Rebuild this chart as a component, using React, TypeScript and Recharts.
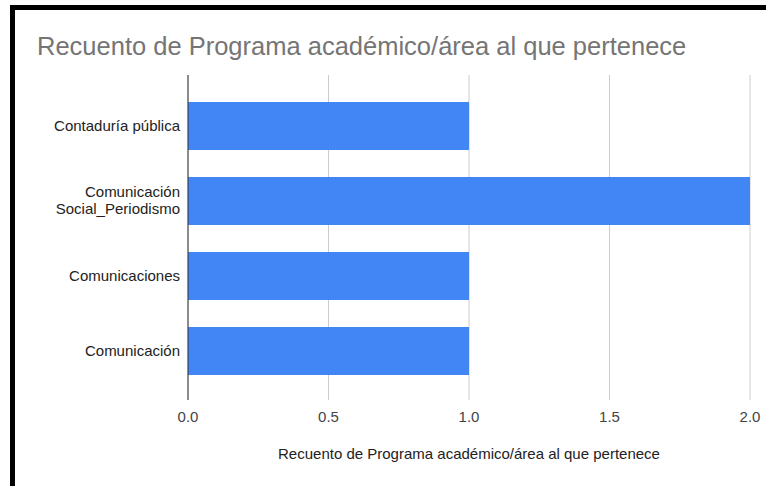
import { Bar, BarChart, CartesianGrid, Label, XAxis, YAxis } from "recharts";

const categories = [
  "Contaduría pública",
  "Comunicación Social_Periodismo",
  "Comunicaciones",
  "Comunicación",
];
const counts = [1, 2, 1, 1];
const xTicks = [0, 0.5, 1, 1.5, 2];

const TITLE = "Recuento de Programa académico/área al que pertenece";
const FONT = "'Liberation Sans', Arial, sans-serif";

const data = categories.map((name, i) => ({ name, value: counts[i] }));

// long labels go on two lines, like the original
const splitLabel = (s: string) => {
  if (s.length <= 20) return [s];
  const i = s.indexOf(" ");
  return i < 0 ? [s] : [s.slice(0, i), s.slice(i + 1)];
};

const CategoryTick = (props: any) => {
  const { x, y, payload } = props;
  const lines = splitLabel(String(payload.value));
  const lh = 17;
  const start = y - ((lines.length - 1) * lh) / 2 + 5;
  return (
    <text textAnchor="end" fill="#222" fontSize={15} fontFamily={FONT}>
      {lines.map((l, i) => (
        <tspan key={i} x={x} y={start + i * lh}>
          {l}
        </tspan>
      ))}
    </text>
  );
};

const App = () => {
  return (
    <div style={{ position: "absolute", left: 0, top: 0, width: 766, height: 486, background: "#fff", overflow: "hidden" }}>
      <div
        style={{
          position: "absolute",
          left: 10,
          top: 5,
          width: 800,
          height: 500,
          borderLeft: "5px solid #000",
          borderTop: "5px solid #000",
        }}
      />
      <div
        style={{
          position: "absolute",
          left: 37,
          top: 32,
          fontFamily: FONT,
          fontSize: 25.5,
          color: "#757575",
          whiteSpace: "nowrap",
        }}
      >
        {TITLE}
      </div>
      <div style={{ position: "absolute", left: 0, top: 0 }}>
        <BarChart
          width={766}
          height={486}
          data={data}
          layout="vertical"
          margin={{ top: 75, right: 16, bottom: 26, left: 0 }}
          barSize={48}
        >
          <CartesianGrid horizontal={false} stroke="#ccc" />
          <XAxis
            type="number"
            domain={[0, 2]}
            ticks={xTicks}
            tickFormatter={(v: number) => v.toFixed(1)}
            axisLine={false}
            tickLine={false}
            tickMargin={5}
            height={60}
            tick={{ fill: "#444", fontSize: 15, fontFamily: FONT }}
          >
            <Label
              value={TITLE}
              position="insideBottom"
              offset={1}
              fill="#222"
              fontSize={15}
              fontFamily={FONT}
            />
          </XAxis>
          <YAxis
            type="category"
            dataKey="name"
            width={188}
            padding={{ top: 13, bottom: 12 }}
            axisLine={{ stroke: "#333" }}
            tickLine={false}
            tick={<CategoryTick />}
          />
          <Bar dataKey="value" fill="#4285F4" isAnimationActive={false} />
        </BarChart>
      </div>
    </div>
  );
};

export default App;
